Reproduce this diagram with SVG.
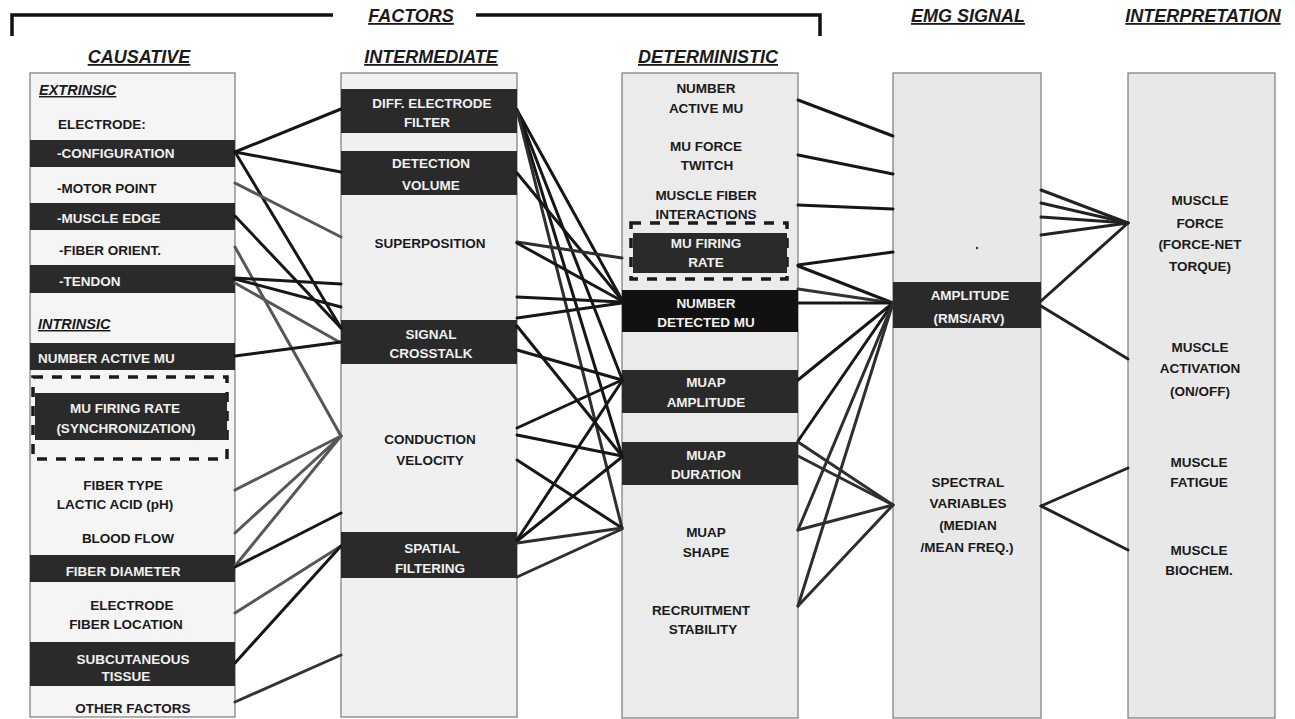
<svg xmlns="http://www.w3.org/2000/svg" width="1295" height="719" viewBox="0 0 1295 719">
<style>
.box{fill:#efefef;stroke:#7a7a7a;stroke-width:1.2}
.bar{fill:#2a2a2a}
.bar2{fill:#111}
.t{font-family:"Liberation Sans",Arial,sans-serif;font-weight:bold;font-size:13.5px;fill:#1a1a1a;text-anchor:middle}
.s{text-anchor:start}
.w{fill:#f0f0f0}
.hd{font-size:18px;font-style:italic;text-decoration:underline}
.sub{font-size:14.5px;font-style:italic;text-decoration:underline;text-anchor:start}
.k{stroke:#161616;stroke-width:3;fill:none;stroke-linecap:round}
.g{stroke:#575757;stroke-width:3;fill:none;stroke-linecap:round}
.dash{fill:none;stroke:#1a1a1a;stroke-width:3.5;stroke-dasharray:10 9}
.br{fill:none;stroke:#111;stroke-width:3.5}
</style>
<rect width="1295" height="719" fill="#fff"/>

<g id="headers">
<path class="br" d="M12,36 V15 H333 M476,15 H820 V36"/>
<text class="t hd" x="411" y="22">FACTORS</text>
<text class="t hd" x="139" y="63">CAUSATIVE</text>
<text class="t hd" x="431" y="63">INTERMEDIATE</text>
<text class="t hd" x="708" y="63">DETERMINISTIC</text>
<text class="t hd" x="968" y="22">EMG SIGNAL</text>
<text class="t hd" x="1203" y="22">INTERPRETATION</text>
</g>

<g id="col-causative">
<rect class="box" x="30" y="73" width="205" height="644" style="fill:#f5f5f5"/>
<text class="t sub" x="39" y="95">EXTRINSIC</text>
<text class="t s" x="58" y="129">ELECTRODE:</text>
<g id="n-configuration"><rect class="bar" x="30" y="140" width="205" height="27"/><text class="t s w" x="57" y="158">-CONFIGURATION</text></g>
<g id="n-motorpoint"><text class="t s" x="57" y="193">-MOTOR POINT</text></g>
<g id="n-muscleedge"><rect class="bar" x="30" y="203" width="205" height="27"/><text class="t s w" x="57" y="223">-MUSCLE EDGE</text></g>
<g id="n-fiberorient"><text class="t s" x="59" y="255">-FIBER ORIENT.</text></g>
<g id="n-tendon"><rect class="bar" x="30" y="265" width="205" height="28"/><text class="t s w" x="59" y="286">-TENDON</text></g>
<text class="t sub" x="38" y="329">INTRINSIC</text>
<g id="n-numberactivemu1"><rect class="bar" x="30" y="343" width="205" height="27"/><text class="t s w" x="38" y="363">NUMBER ACTIVE MU</text></g>
<g id="n-mufiringrate1"><rect class="dash" x="33" y="377" width="194" height="82"/><rect class="bar" x="35" y="393" width="192" height="47"/><text class="t w" x="125" y="413">MU FIRING RATE</text><text class="t w" x="126" y="433">(SYNCHRONIZATION)</text></g>
<g id="n-fibertype"><text class="t" x="123" y="490">FIBER TYPE</text><text class="t" x="115" y="509">LACTIC ACID (pH)</text></g>
<g id="n-bloodflow"><text class="t" x="128" y="543">BLOOD FLOW</text></g>
<g id="n-fiberdiameter"><rect class="bar" x="30" y="555" width="205" height="27"/><text class="t w" x="123" y="576">FIBER DIAMETER</text></g>
<g id="n-electrodefiber"><text class="t" x="132" y="610">ELECTRODE</text><text class="t" x="126" y="629">FIBER LOCATION</text></g>
<g id="n-subcutaneous"><rect class="bar" x="30" y="642" width="205" height="44"/><text class="t w" x="133" y="664">SUBCUTANEOUS</text><text class="t w" x="126" y="681">TISSUE</text></g>
<g id="n-otherfactors"><text class="t" x="133" y="713">OTHER FACTORS</text></g>
</g>

<g id="col-intermediate">
<rect class="box" x="341" y="73" width="176" height="644" style="fill:#f0f0f0"/>
<g id="n-difffilter"><rect class="bar" x="341" y="89" width="176" height="44"/><text class="t w" x="432" y="108">DIFF. ELECTRODE</text><text class="t w" x="427" y="127">FILTER</text></g>
<g id="n-detectionvolume"><rect class="bar" x="341" y="151" width="176" height="44"/><text class="t w" x="431" y="168">DETECTION</text><text class="t w" x="431" y="190">VOLUME</text></g>
<g id="n-superposition"><text class="t" x="430" y="248">SUPERPOSITION</text></g>
<g id="n-crosstalk"><rect class="bar" x="341" y="320" width="176" height="44"/><text class="t w" x="431" y="339">SIGNAL</text><text class="t w" x="431" y="358">CROSSTALK</text></g>
<g id="n-conduction"><text class="t" x="430" y="444">CONDUCTION</text><text class="t" x="430" y="465">VELOCITY</text></g>
<g id="n-spatial"><rect class="bar" x="341" y="532" width="176" height="46"/><text class="t w" x="432" y="553">SPATIAL</text><text class="t w" x="430" y="573">FILTERING</text></g>
</g>

<g id="col-deterministic">
<rect class="box" x="622" y="73" width="176" height="645" style="fill:#ebebeb"/>
<g id="n-numberactivemu"><text class="t" x="706" y="93">NUMBER</text><text class="t" x="706" y="113">ACTIVE MU</text></g>
<g id="n-muforce"><text class="t" x="706" y="151">MU FORCE</text><text class="t" x="707" y="170">TWITCH</text></g>
<g id="n-interactions"><text class="t" x="706" y="200">MUSCLE FIBER</text><text class="t" x="706" y="219">INTERACTIONS</text></g>
<g id="n-mufiringrate"><rect class="dash" x="631" y="223" width="156" height="56"/><rect class="bar" x="633" y="233" width="154" height="40"/><text class="t w" x="706" y="248">MU FIRING</text><text class="t w" x="706" y="267">RATE</text></g>
<g id="n-numberdetected"><rect class="bar2" x="622" y="290" width="176" height="42"/><text class="t w" x="706" y="308">NUMBER</text><text class="t w" x="706" y="327">DETECTED MU</text></g>
<g id="n-muapamplitude"><rect class="bar" x="622" y="370" width="176" height="43"/><text class="t w" x="706" y="387">MUAP</text><text class="t w" x="706" y="407">AMPLITUDE</text></g>
<g id="n-muapduration"><rect class="bar" x="622" y="442" width="176" height="43"/><text class="t w" x="706" y="460">MUAP</text><text class="t w" x="706" y="479">DURATION</text></g>
<g id="n-muapshape"><text class="t" x="706" y="537">MUAP</text><text class="t" x="706" y="557">SHAPE</text></g>
<g id="n-recruitment"><text class="t" x="701" y="615">RECRUITMENT</text><text class="t" x="703" y="634">STABILITY</text></g>
</g>

<g id="col-emg">
<rect class="box" x="893" y="73" width="148" height="645" style="fill:#e8e8e8"/>
<circle cx="977" cy="248" r="1.2" fill="#333"/>
<g id="n-amplitude"><rect class="bar" x="893" y="282" width="148" height="46"/><text class="t w" x="970" y="300">AMPLITUDE</text><text class="t w" x="969" y="323">(RMS/ARV)</text></g>
<g id="n-spectral"><text class="t" x="968" y="487">SPECTRAL</text><text class="t" x="968" y="508">VARIABLES</text><text class="t" x="968" y="530">(MEDIAN</text><text class="t" x="967" y="552">/MEAN FREQ.)</text></g>
</g>

<g id="col-interpretation">
<rect class="box" x="1128" y="73" width="147" height="645" style="fill:#e8e8e8"/>
<g id="n-force"><text class="t" x="1200" y="205">MUSCLE</text><text class="t" x="1200" y="228">FORCE</text><text class="t" x="1200" y="249">(FORCE-NET</text><text class="t" x="1200" y="271">TORQUE)</text></g>
<g id="n-activation"><text class="t" x="1200" y="352">MUSCLE</text><text class="t" x="1200" y="373">ACTIVATION</text><text class="t" x="1200" y="396">(ON/OFF)</text></g>
<g id="n-fatigue"><text class="t" x="1199" y="467">MUSCLE</text><text class="t" x="1199" y="487">FATIGUE</text></g>
<g id="n-biochem"><text class="t" x="1199" y="555">MUSCLE</text><text class="t" x="1199" y="575">BIOCHEM.</text></g>
</g>

<g id="connectors">
<!-- causative -> intermediate -->
<line class="k" x1="235" y1="152" x2="341" y2="109"/>
<line class="k" x1="235" y1="152" x2="341" y2="172"/>
<line class="k" x1="235" y1="152" x2="341" y2="328"/>
<line class="g" x1="235" y1="183" x2="341" y2="237"/>
<line class="k" x1="235" y1="216" x2="341" y2="328"/>
<line class="g" x1="235" y1="247" x2="341" y2="436"/>
<line class="k" x1="235" y1="278" x2="341" y2="284"/>
<line class="k" x1="235" y1="279" x2="341" y2="307"/>
<line class="g" x1="235" y1="283" x2="341" y2="343"/>
<line class="k" x1="235" y1="356" x2="341" y2="342"/>
<line class="g" x1="235" y1="490" x2="341" y2="436"/>
<line class="g" x1="235" y1="533" x2="341" y2="436"/>
<line class="g" x1="235" y1="566" x2="341" y2="436"/>
<line class="k" x1="235" y1="567" x2="341" y2="513"/>
<line class="g" x1="235" y1="613" x2="341" y2="546"/>
<line class="k" x1="235" y1="663" x2="341" y2="546"/>
<line class="k" x1="235" y1="702" x2="341" y2="655" style="stroke:#333"/>
<!-- intermediate -> deterministic -->
<line class="k" x1="517" y1="110" x2="622" y2="300"/>
<line class="k" x1="517" y1="110" x2="622" y2="379"/>
<line class="k" x1="517" y1="110" x2="622" y2="456"/>
<line class="k" x1="517" y1="110" x2="622" y2="528" style="stroke:#2e2e2e"/>
<line class="k" x1="517" y1="173" x2="622" y2="300"/>
<line class="k" x1="517" y1="242" x2="622" y2="258" style="stroke:#2e2e2e"/>
<line class="k" x1="517" y1="243" x2="622" y2="301"/>
<line class="k" x1="517" y1="297" x2="622" y2="302"/>
<line class="k" x1="517" y1="318" x2="622" y2="303"/>
<line class="k" x1="517" y1="326" x2="622" y2="456"/>
<line class="k" x1="517" y1="350" x2="622" y2="380"/>
<line class="k" x1="517" y1="428" x2="622" y2="380"/>
<line class="k" x1="517" y1="435" x2="622" y2="456"/>
<line class="k" x1="517" y1="460" x2="622" y2="528"/>
<line class="k" x1="517" y1="540" x2="622" y2="381"/>
<line class="k" x1="517" y1="541" x2="622" y2="457"/>
<line class="k" x1="517" y1="543" x2="622" y2="528" style="stroke:#2e2e2e"/>
<line class="k" x1="517" y1="577" x2="622" y2="529" style="stroke:#2e2e2e"/>
<!-- deterministic -> emg -->
<line class="k" x1="798" y1="100" x2="893" y2="136"/>
<line class="k" x1="798" y1="155" x2="893" y2="174"/>
<line class="k" x1="798" y1="205" x2="893" y2="209"/>
<line class="k" x1="798" y1="265" x2="893" y2="252"/>
<line class="k" x1="798" y1="266" x2="893" y2="303"/>
<line class="k" x1="798" y1="289" x2="893" y2="303" style="stroke:#333"/>
<line class="k" x1="798" y1="303" x2="893" y2="303"/>
<line class="k" x1="798" y1="380" x2="893" y2="303"/>
<line class="k" x1="798" y1="441" x2="893" y2="303"/>
<line class="k" x1="798" y1="442" x2="893" y2="505" style="stroke:#2e2e2e"/>
<line class="k" x1="798" y1="456" x2="893" y2="505" style="stroke:#2e2e2e"/>
<line class="k" x1="798" y1="530" x2="893" y2="303" style="stroke:#2e2e2e"/>
<line class="k" x1="798" y1="530" x2="893" y2="505" style="stroke:#2e2e2e"/>
<line class="k" x1="798" y1="606" x2="893" y2="303" style="stroke:#2e2e2e"/>
<line class="k" x1="798" y1="606" x2="893" y2="505" style="stroke:#2e2e2e"/>
<!-- emg -> interpretation -->
<line class="k" x1="1041" y1="190" x2="1128" y2="223" style="stroke:#222"/>
<line class="k" x1="1041" y1="203" x2="1128" y2="223" style="stroke:#222"/>
<line class="k" x1="1041" y1="217" x2="1128" y2="223" style="stroke:#222"/>
<line class="k" x1="1041" y1="235" x2="1128" y2="223" style="stroke:#222"/>
<line class="k" x1="1041" y1="301" x2="1128" y2="223" style="stroke:#222"/>
<line class="k" x1="1041" y1="306" x2="1128" y2="359" style="stroke:#222"/>
<line class="k" x1="1041" y1="506" x2="1128" y2="468" style="stroke:#222"/>
<line class="k" x1="1041" y1="506" x2="1128" y2="550" style="stroke:#222"/>
</g>
</svg>
